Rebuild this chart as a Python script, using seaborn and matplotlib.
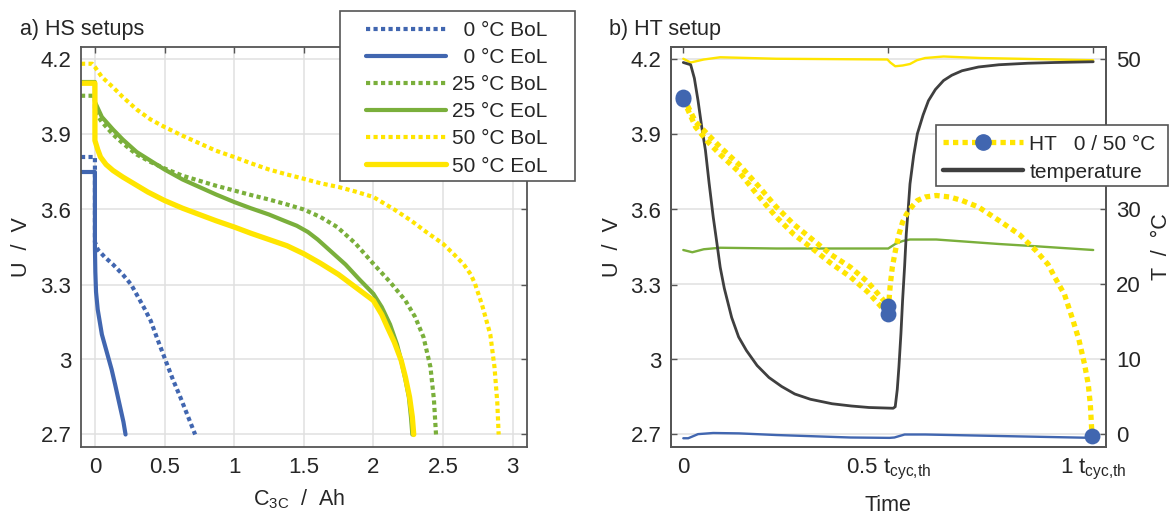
import matplotlib
matplotlib.use("Agg")
import matplotlib.pyplot as plt
from matplotlib.lines import Line2D
from matplotlib.patches import Rectangle
import seaborn as sns

#%% Data: a) HS setups, discharge curves (capacity in Ah, voltage in V)

c_0_bol = [-0.1, 0.0, 0.0, 0.02, 0.07, 0.13, 0.2, 0.26, 0.3, 0.35, 0.40, 0.45, 0.505, 0.56, 0.613, 0.67, 0.72]
u_0_bol = [3.81, 3.81, 3.47, 3.44, 3.41, 3.38, 3.34, 3.30, 3.26, 3.21, 3.156, 3.08, 3.00, 2.92, 2.85, 2.77, 2.70]

c_0_eol = [-0.1, 0.0, 0.0, 0.003, 0.008, 0.02, 0.035, 0.05, 0.07, 0.09, 0.12, 0.145, 0.165, 0.185, 0.205, 0.22]
u_0_eol = [3.75, 3.75, 3.45, 3.35, 3.27, 3.20, 3.15, 3.10, 3.06, 3.02, 2.96, 2.90, 2.85, 2.80, 2.75, 2.70]

c_25_bol = [-0.1, 0.0, 0.0, 0.05, 0.13, 0.2, 0.3, 0.4, 0.505, 0.63, 0.75, 0.87, 1.0, 1.12, 1.25, 1.38,
            1.5, 1.62, 1.74, 1.87, 2.0, 2.12, 2.23, 2.3, 2.36, 2.41, 2.435, 2.45]
u_25_bol = [4.055, 4.055, 3.99, 3.95, 3.90, 3.865, 3.82, 3.79, 3.763, 3.735, 3.715, 3.695, 3.676, 3.658, 3.64, 3.62,
            3.60, 3.57, 3.53, 3.465, 3.383, 3.31, 3.236, 3.17, 3.09, 2.97, 2.84, 2.70]

c_25_eol = [-0.1, 0.0, 0.0, 0.05, 0.13, 0.2, 0.3, 0.4, 0.5, 0.63, 0.75, 0.87, 1.0, 1.12, 1.25, 1.36, 1.45,
            1.53, 1.6, 1.7, 1.8, 1.9, 2.0, 2.06, 2.12, 2.17, 2.2, 2.23, 2.255, 2.27, 2.28]
u_25_eol = [4.11, 4.11, 4.03, 3.97, 3.92, 3.88, 3.83, 3.795, 3.76, 3.72, 3.69, 3.66, 3.63, 3.605, 3.58, 3.555, 3.535,
            3.51, 3.48, 3.43, 3.38, 3.32, 3.263, 3.21, 3.14, 3.06, 2.996, 2.92, 2.85, 2.77, 2.70]

c_50_bol = [-0.1, -0.02, 0.0, 0.05, 0.13, 0.2, 0.3, 0.4, 0.5, 0.63, 0.75, 0.87, 1.0, 1.12, 1.25, 1.38, 1.5,
            1.62, 1.75, 1.87, 2.0, 2.15, 2.27, 2.38, 2.5, 2.58, 2.65, 2.7, 2.73, 2.78, 2.84, 2.87, 2.89, 2.9]
u_50_bol = [4.183, 4.183, 4.17, 4.13, 4.089, 4.05, 4.00, 3.96, 3.93, 3.895, 3.865, 3.835, 3.81, 3.785, 3.76, 3.74, 3.723,
            3.705, 3.69, 3.672, 3.65, 3.60, 3.556, 3.51, 3.463, 3.42, 3.38, 3.34, 3.303, 3.22, 3.10, 2.97, 2.83, 2.70]

c_50_eol = [-0.1, 0.0, 0.0, 0.02, 0.04, 0.08, 0.13, 0.2, 0.26, 0.38, 0.5, 0.63, 0.75, 0.87, 1.0, 1.12, 1.25,
            1.38, 1.5, 1.62, 1.75, 1.87, 2.0, 2.06, 2.1, 2.15, 2.2, 2.23, 2.26, 2.28, 2.29]
u_50_eol = [4.105, 4.105, 3.876, 3.84, 3.81, 3.78, 3.756, 3.73, 3.71, 3.67, 3.636, 3.605, 3.58, 3.555, 3.53, 3.505, 3.48,
            3.455, 3.423, 3.385, 3.34, 3.29, 3.236, 3.18, 3.13, 3.07, 2.996, 2.93, 2.85, 2.77, 2.70]

labels_hs = ['  0 °C BoL', '  0 °C EoL', '25 °C BoL', '25 °C EoL', '50 °C BoL', '50 °C EoL']

#%% Data: b) HT setup (time in t_cyc,th)

# cell voltage, two traces in the first half, one in the second half
t_ht_a = [0.0, 0.03, 0.06, 0.09, 0.136, 0.18, 0.227, 0.27, 0.318, 0.36, 0.408, 0.45, 0.5]
u_ht_a = [4.05, 3.95, 3.90, 3.85, 3.78, 3.70, 3.61, 3.54, 3.476, 3.42, 3.369, 3.31, 3.215]
t_ht_b = [0.0, 0.03, 0.06, 0.09, 0.136, 0.18, 0.227, 0.27, 0.318, 0.36, 0.408, 0.45, 0.5]
u_ht_b = [4.04, 3.93, 3.87, 3.82, 3.75, 3.66, 3.57, 3.50, 3.44, 3.385, 3.33, 3.27, 3.18]
t_ht_c = [0.5, 0.505, 0.51, 0.518, 0.526, 0.535, 0.544, 0.557, 0.571, 0.59, 0.617, 0.65, 0.68, 0.72, 0.77,
          0.82, 0.86, 0.89, 0.906, 0.93, 0.95, 0.965, 0.979, 0.988, 0.993, 0.997]
u_ht_c = [3.20, 3.30, 3.37, 3.44, 3.50, 3.55, 3.58, 3.61, 3.636, 3.65, 3.656, 3.65, 3.636, 3.61, 3.556,
          3.50, 3.436, 3.38, 3.33, 3.26, 3.16, 3.08, 2.98, 2.90, 2.82, 2.70]

t_marks = [0.0, 0.0, 0.5, 0.5, 0.997]
u_marks = [4.05, 4.04, 3.215, 3.18, 2.695]

# cell temperature (°C)
t_temp = [0.0, 0.018, 0.027, 0.036, 0.045, 0.054, 0.063, 0.073, 0.082, 0.09, 0.1, 0.118, 0.135, 0.154, 0.18,
          0.209, 0.24, 0.272, 0.31, 0.363, 0.41, 0.453, 0.512, 0.517, 0.522, 0.526, 0.531, 0.535, 0.54, 0.544,
          0.549, 0.553, 0.562, 0.571, 0.585, 0.598, 0.615, 0.635, 0.655, 0.68, 0.72, 0.77, 0.84, 0.906, 1.0]
temp = [49.6, 49.3, 47.5, 44.5, 41.0, 37.9, 33.5, 29.0, 25.5, 22.3, 19.5, 15.6, 13.0, 11.2, 9.2,
        7.6, 6.4, 5.4, 4.7, 4.1, 3.8, 3.6, 3.5, 3.7, 6.0, 9.0, 13.5, 17.9, 22.5, 26.8,
        30.3, 33.4, 37.2, 40.1, 42.6, 44.5, 46.0, 47.2, 47.9, 48.5, 49.0, 49.3, 49.5, 49.6, 49.7]

# climate chamber temperatures (°C)
t_ch50 = [0.0, 0.018, 0.05, 0.09, 0.227, 0.498, 0.505, 0.517, 0.535, 0.553, 0.57, 0.59, 0.635, 0.725, 1.0]
temp_ch50 = [50.1, 49.6, 50.0, 50.3, 50.1, 50.0, 49.6, 49.1, 49.2, 49.4, 49.9, 50.2, 50.4, 50.2, 49.9]
t_ch25 = [0.0, 0.022, 0.05, 0.09, 0.227, 0.5, 0.517, 0.535, 0.553, 0.617, 0.77, 0.86, 1.0]
temp_ch25 = [24.6, 24.3, 24.7, 24.9, 24.8, 24.8, 25.4, 25.8, 26.0, 26.0, 25.4, 25.1, 24.6]
t_ch0 = [0.0, 0.012, 0.036, 0.073, 0.136, 0.227, 0.408, 0.503, 0.515, 0.54, 0.59, 0.77, 1.0]
temp_ch0 = [-0.5, -0.5, 0.05, 0.2, 0.15, -0.07, -0.4, -0.45, -0.4, 0.0, 0.0, -0.2, -0.45]

#%% Style

sns.set_theme(style="white")
plt.rcParams['font.family'] = ['Liberation Sans', 'DejaVu Sans']
plt.rcParams['mathtext.fontset'] = 'custom'
plt.rcParams['mathtext.rm'] = 'Liberation Sans'
plt.rcParams['mathtext.it'] = 'Liberation Sans'
plt.rcParams['font.size'] = 15

blue = '#4166B0'
green = '#7AAF3B'
yellow = '#FFE500'
dark = '#3F3F3F'
frame = '#555555'
grid_c = '#E0E0E0'
txt = '#262626'
dot = (1.0, 0.8)
lw_hs = 3.0
fs_tick = 16
fs_lab = 15.5

fig = plt.figure(figsize=(11.73, 5.18), dpi=100)
ax1 = fig.add_axes([81/1173, 71/518, 445.5/1173, 400/518])
ax2 = fig.add_axes([671/1173, 71/518, 434.5/1173, 400/518])
ax3 = ax2.twinx()


def style_axes(ax):
    for s in ax.spines.values():
        s.set_color(frame)
        s.set_linewidth(1.3)
    ax.tick_params(direction='in', length=4, width=1, color=frame, labelsize=fs_tick,
                   labelcolor=txt)


#%% Plot a)

style_axes(ax1)
ax1.grid(True, color=grid_c, linewidth=1.1)
ax1.set_axisbelow(True)
ax1.tick_params(top=True, right=True)
ax1.tick_params(axis='x', pad=7)
ax1.tick_params(axis='y', pad=7)

curves = [(c_0_bol, u_0_bol, blue, True), (c_0_eol, u_0_eol, blue, False),
          (c_25_bol, u_25_bol, green, True), (c_25_eol, u_25_eol, green, False),
          (c_50_bol, u_50_bol, yellow, True), (c_50_eol, u_50_eol, yellow, False)]
handles1 = []
for i, (c, u, col, dotted) in enumerate(curves):
    lw = 3.8 if i == 5 else lw_hs
    sns.lineplot(x=c, y=u, ax=ax1, sort=False, estimator=None, color=col, lw=lw, legend=False)
    line = ax1.lines[-1]
    if dotted:
        line.set_dashes(dot)
    handles1.append(line)

ax1.set_xlim(-0.1, 3.1)
ax1.set_ylim(2.65, 4.25)
ax1.set_xticks([0, 0.5, 1, 1.5, 2, 2.5, 3])
ax1.set_xticklabels(['0', '0.5', '1', '1.5', '2', '2.5', '3'])
ax1.set_yticks([2.7, 3.0, 3.3, 3.6, 3.9, 4.2])
ax1.set_yticklabels(['2.7', '3', '3.3', '3.6', '3.9', '4.2'])
ax1.set_xlabel(r'C$_\mathregular{3C}$  /  Ah', fontsize=fs_lab, color=txt)
ax1.set_ylabel('U  /  V', fontsize=fs_lab, color=txt)
ax1.xaxis.set_label_coords(0.49, -0.1)
ax1.yaxis.set_label_coords(-0.11, 0.5)

#%% Plot b)

# grid and temperatures on the right axis, voltage on top of it
ax2.set_zorder(1)
ax2.patch.set_visible(False)
style_axes(ax2)
style_axes(ax3)
ax3.grid(True, color=grid_c, linewidth=1.1)
ax3.set_axisbelow(True)
ax2.tick_params(top=True)
ax2.tick_params(axis='x', pad=7)
ax2.tick_params(axis='y', pad=7)
ax3.tick_params(axis='y', pad=7.5)

for t, v, col, lw in [(t_ch50, temp_ch50, yellow, 1.7), (t_ch25, temp_ch25, green, 1.7),
                      (t_ch0, temp_ch0, blue, 1.7), (t_temp, temp, dark, 2.0)]:
    sns.lineplot(x=t, y=v, ax=ax3, sort=False, estimator=None, color=col, lw=lw, legend=False)

ax2.plot(t_ht_a, u_ht_a, color=yellow, lw=3.8, dashes=dot)
ax2.plot(t_ht_b, u_ht_b, color=yellow, lw=3.8, dashes=dot)
ax2.plot(t_ht_c, u_ht_c, color=yellow, lw=3.8, dashes=dot)
sns.scatterplot(x=t_marks, y=u_marks, ax=ax2, s=130, color=blue, edgecolor=blue, linewidth=0,
                zorder=5)

ax2.set_xlim(-0.03, 1.03)
ax2.set_ylim(2.65, 4.25)
ax3.set_ylim((2.65 - 2.7) / 1.5 * 50, (4.25 - 2.7) / 1.5 * 50)
ax2.set_xticks([0, 0.5, 1])
ax2.set_xticklabels(['0', r'0.5 t$_\mathregular{cyc{,}th}$', r'1 t$_\mathregular{cyc{,}th}$'])
ax2.set_yticks([2.7, 3.0, 3.3, 3.6, 3.9, 4.2])
ax2.set_yticklabels(['2.7', '3', '3.3', '3.6', '3.9', '4.2'])
ax3.set_yticks([0, 10, 20, 30, 40, 50])
# the 40 label sits under the legend box in the original
ax3.set_yticklabels(['0', '10', '20', '30', '', '50'])
ax2.set_xlabel('Time', fontsize=fs_lab, color=txt)
ax2.set_ylabel('U  /  V', fontsize=fs_lab, color=txt)
ax3.set_ylabel('T  /  °C', fontsize=fs_lab, color=txt)
ax2.xaxis.set_label_coords(0.5, -0.12)
ax2.yaxis.set_label_coords(-0.11, 0.5)
ax3.yaxis.set_label_coords(1.105, 0.5)

#%% Legends (boxes drawn in figure pixels)

fig.add_artist(Rectangle((340/1173, 1 - 181/518), 235/1173, 170/518, transform=fig.transFigure,
                         fc='white', ec=frame, lw=1.2, zorder=4))
fig.legend(handles1, labels_hs, loc='upper left', bbox_to_anchor=(365.6/1173, 1 - 21/518),
           bbox_transform=fig.transFigure, frameon=False, fontsize=15, handlelength=3.85,
           labelspacing=0.39, borderpad=0, borderaxespad=0, handletextpad=0.3)

h_ht = Line2D([], [], color=yellow, lw=3.8, dashes=dot, marker='o', ms=11,
              mfc=blue, mec=blue)
h_t = Line2D([], [], color=dark, lw=3.2)
fig.add_artist(Rectangle((935.6/1173, 1 - 186/518), 232.4/1173, 61/518, transform=fig.transFigure,
                         fc='white', ec=frame, lw=1.2, zorder=4))
fig.legend([h_ht, h_t], ['HT   0 / 50 °C', 'temperature'], loc='upper left',
           bbox_to_anchor=(943/1173, 1 - 134.5/518), bbox_transform=fig.transFigure,
           frameon=False, fontsize=15, handlelength=3.85, labelspacing=0.44, borderpad=0,
           borderaxespad=0, handletextpad=0.3, numpoints=1)

#%% Panel titles

fig.text(20/1173, 1 - 30/518, 'a) HS setups', fontsize=15.5, va='center', ha='left', color=txt)
fig.text(609/1173, 1 - 30/518, 'b) HT setup', fontsize=15.5, va='center', ha='left', color=txt)

fig.savefig('out.png', dpi=100)
